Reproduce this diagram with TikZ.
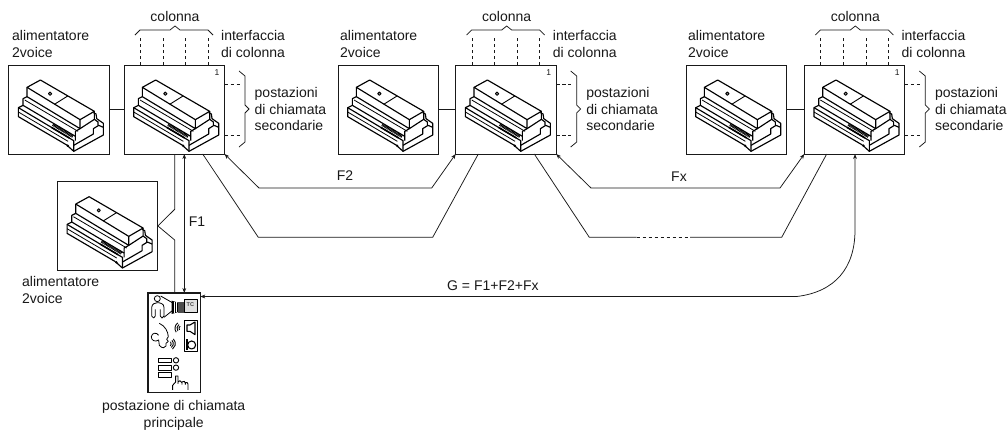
\documentclass[tikz,border=0pt]{standalone}
\usepackage{fontspec}
\setmainfont{Liberation Sans}
\usetikzlibrary{arrows.meta,calc}
\definecolor{ink}{gray}{0.1}
\tikzset{
  x=1pt,y=-1pt,
  lab/.style={font=\fontsize{14}{16.5}\selectfont,text=ink,inner sep=0pt,align=left},
  capt/.style={font=\fontsize{14}{17}\selectfont,text=ink,inner sep=0pt,align=center},
  devbox/.style={draw=ink,line width=.9pt,minimum width=100.5pt,minimum height=89pt,inner sep=0pt,outer sep=0pt,anchor=north west},
  wire/.style={draw=ink,line width=.75pt},
  dash wire/.style={draw=ink,line width=.75pt,dash pattern=on 3.5pt off 2.5pt},
  bracket/.style={draw=ink,line width=.75pt},
  tip/.style={wire,{Stealth[length=4.5pt,width=3.5pt]}-},
  tiptip/.style={wire,{Stealth[length=5pt,width=3.8pt]}-{Stealth[length=5pt,width=3.8pt]}},
  pics/device/.style={code={
    \begin{scope}[scale=.3333,draw=black,line width=1.15pt,line join=round]
      \draw (23,46)--(63,24)--(225,118)--(182,143)--cycle;
      \draw[line width=.9pt] (105,97)--(145,72);
      \draw[line width=.9pt,fill=black!40] (92,65) circle (5);
      \draw (23,46)--(23,74)--(182,170)--(182,143);
      \draw (225,118)--(225,142)--(182,170);
      \draw (23,74)--(11,80)--(11,100)--(168,193)--(168,206);
      \draw[line width=.8pt] (16,84)--(176,178);
      \draw (182,170)--(168,178)--(168,193);
      \draw (11,100)--(-3,107)--(-3,134)--(142,219);
      \draw[line width=.8pt] (-3,120)--(146,208);
      \draw (-3,107)--(163,206)--(163,238);
      \draw (142,219)--(163,238)--(252,189)--(252,154)--(232,140)--(230,126)--(222,122);
      \draw (163,220)--(222,186)--(222,170)--(238,160)--(252,166);
      \draw (225,142)--(236,150)--(236,160);
      \draw[line width=2.6pt,dash pattern=on .9pt off .5pt] (100,158)--(160,194);
      \draw[line width=1.6pt] (96,166)--(150,198);
      \fill (145,221) circle (4);
    \end{scope}
  }},
}
\begin{document}
\begin{tikzpicture}
\useasboundingbox (0,0) rectangle (1008,432);
\fill[white] (0,0) rectangle (1008,432);

% Boxes
\node[devbox] (p1) at (8.7,65) {};
\node[devbox] (b1) at (124,65) {};
\node[devbox] (p2) at (338,65) {};
\node[devbox] (b2) at (455.7,65) {};
\node[devbox] (p3) at (686,65) {};
\node[devbox] (b3) at (804.3,65) {};
\node[devbox,minimum height=88.5pt] (p0) at (57.4,181.7) {};
\node[draw=ink,line width=1.5pt,minimum width=52.5pt,minimum height=99.5pt,inner sep=0pt,outer sep=0pt,anchor=north west] (st) at (147.8,293) {};

% Device drawings
\foreach \n/\X/\Y in {a/8.7/65,b/124/65,c/338/65,d/455.7/65,e/686/65,f/804.3/65,g/57.4/181.7}
  \pic at (\X+10.7,\Y+7) {device};

% Per-column decorations
\foreach \bx/\lx in {b1/0,b2/331.7,b3/680.3}{
  \foreach \dx in {16.3,39,61.7,84}
    \draw[dash wire] ($(\bx.north west)+(\dx,0)$) -- ++(0,-28);
  \draw[bracket] (135+\lx,35)--(140+\lx,30)--(170+\lx,30)--(175+\lx,26)--(180+\lx,30)--(208+\lx,30)--(213+\lx,35);
  \draw[dash wire] ($(\bx.north east)+(0,19)$) -- ++(15,0);
  \draw[dash wire] ($(\bx.north east)+(0,70)$) -- ++(15,0);
  \draw[bracket] (239+\lx,71)--(245+\lx,76)--(245+\lx,105)--(249+\lx,109)--(245+\lx,113)--(245+\lx,142)--(239+\lx,147);
  \node[lab,font=\fontsize{8.5}{9}\selectfont] at (217+\lx,73) {1};
  \node[lab,anchor=center] at (175+\lx,16) {colonna};
  \node[lab,anchor=west] at (221+\lx,44) {interfaccia\\di colonna};
  \node[lab,anchor=west] at (254.5+\lx,109) {postazioni\\di chiamata\\secondarie};
}
\foreach \lx in {12,340,688}
  \node[lab,anchor=west] at (\lx,44) {alimentatore\\2voice};

% Supply to box links
\draw[wire] (p1.east) -- (b1.west);
\draw[wire] (p2.east) -- (b2.west);
\draw[wire] (p3.east) -- (b3.west);

% F1 and lower supply
\coordinate (k1) at (174.7,209.3);
\coordinate (k2) at (174.7,240);
\draw[wire] (b1.south west -| k1) -- (k1) -- (p0.east) -- (k2) -- (st.north -| k1);
\draw[tiptip] (184.3,154) -- (184.3,293);

% F2 / Fx upper
\coordinate (u1) at (259,188);
\coordinate (u2) at (431.7,188);
\coordinate (u3) at (591,188);
\coordinate (u4) at (780,188);
\draw[tiptip] (b1.south east) -- (u1) -- (u2) -- (b2.south west);
\draw[tiptip] (b2.south east) -- (u3) -- (u4) -- (b3.south west);

% lower returns
\coordinate (l1) at (258.3,237.3);
\coordinate (l2) at (432.7,237.3);
\coordinate (l3) at (589.3,237.3);
\coordinate (l4) at (636.7,237.3);
\coordinate (l5) at (690,237.3);
\coordinate (l6) at (781.7,237.3);
\draw[wire] ($(b1.south west)+(78.7,0)$) -- (l1) -- (l2) -- ($(b2.south west)+(22.6,0)$);
\draw[wire] ($(b2.south west)+(78.6,0)$) -- (l3) -- (l4);
\draw[dash wire] (l4) -- (l5);
\draw[wire] (l5) -- (l6) -- ($(b3.south west)+(22.4,0)$);

% G
\coordinate (g1) at (796.7,296.5);
\coordinate (g2) at (855,230);
\draw[tiptip] (st.north east |- g1) -- (g1) .. controls (835,292) and (855,268) .. (g2) -- (b3.south west -| g2);

% Labels
\node[lab,anchor=center] at (345,176) {F2};
\node[lab,anchor=center] at (679,177) {Fx};
\node[lab,anchor=center] at (197,222) {F1};
\node[lab,anchor=west] at (447,286) {G = F1+F2+Fx};
\node[lab,anchor=west] at (22,290) {alimentatore\\2voice};
\node[capt,anchor=north] at (173.7,400) {postazione di chiamata\\principale};

% Station pictograms
\begin{scope}[shift={(40,160)},scale=.3333,draw=black,line width=.8pt,line join=round]
  \draw (352,416) circle (9);
  \draw (341,474)--(335,468)--(335,442) .. controls (336,432) and (345,428) .. (352,428) .. controls (362,428) and (372,432) .. (372,442)--(372,468)--(366,474)--(361,468)--(361,448) (346,448)--(346,468)--(341,474);
  \draw (362,408)--(397,428) (372,472)--(397,452);
  \fill (395,422)--(415,428)--(415,456)--(395,462)--cycle;
  \draw[white,line width=.5pt] (402,425)--(402,459) (409,427)--(409,457);
  \fill[black!70] (415,426) rectangle (432,458);
  \draw[fill=black!12] (432,418) rectangle (473,458);
  \node[font=\bfseries\fontsize{5.5}{6}\selectfont,inner sep=0pt,text=black!75] (tc) at (451,434) {TC};
  % face
  \draw (358,490) .. controls (376,498) and (384,515) .. (385,530)--(380,538)--(385,544)--(378,550)--(378,558) .. controls (376,565) and (366,566) .. (358,556)--(356,540) .. controls (345,548) and (333,540) .. (334,530) .. controls (336,518) and (350,516) .. (356,526);
  % waves
  \foreach \r in {8,14,20}{
    \draw[line width=.9pt] ($(425,505)+(145:\r)$) arc (145:235:\r);
    \draw[line width=.9pt] ($(386,551)+(-45:\r)$) arc (-45:55:\r);
  }
  % speaker + mic
  \draw (433,480) rectangle (472,575);
  \draw[line width=1.1pt] (441,495)--(450,495)--(465,486)--(465,524)--(450,514)--(441,514)--cycle;
  \draw[line width=1.8pt] (441,538)--(441,570);
  \draw[line width=1.1pt] (455,555) circle (12);
  % buttons
  \draw[line width=.9pt] (355,595) rectangle (395,608);
  \draw[line width=.9pt] (355,616) rectangle (395,630);
  \draw[line width=.9pt] (355,638) rectangle (395,653);
  \draw[line width=.9pt] (408,601) circle (8);
  \draw[line width=.9pt] (408,623) circle (8);
  % hand
  \draw[line width=.9pt] (398,690)--(398,676)--(407,666)--(407,648)--(414,648)--(414,672)
     (414,666)--(420,662)--(426,668)--(426,674) (426,666)--(433,664)--(436,670)--(436,674) (436,668)--(442,668)--(444,672)--(444,690);
\end{scope}
\end{tikzpicture}
\end{document}
